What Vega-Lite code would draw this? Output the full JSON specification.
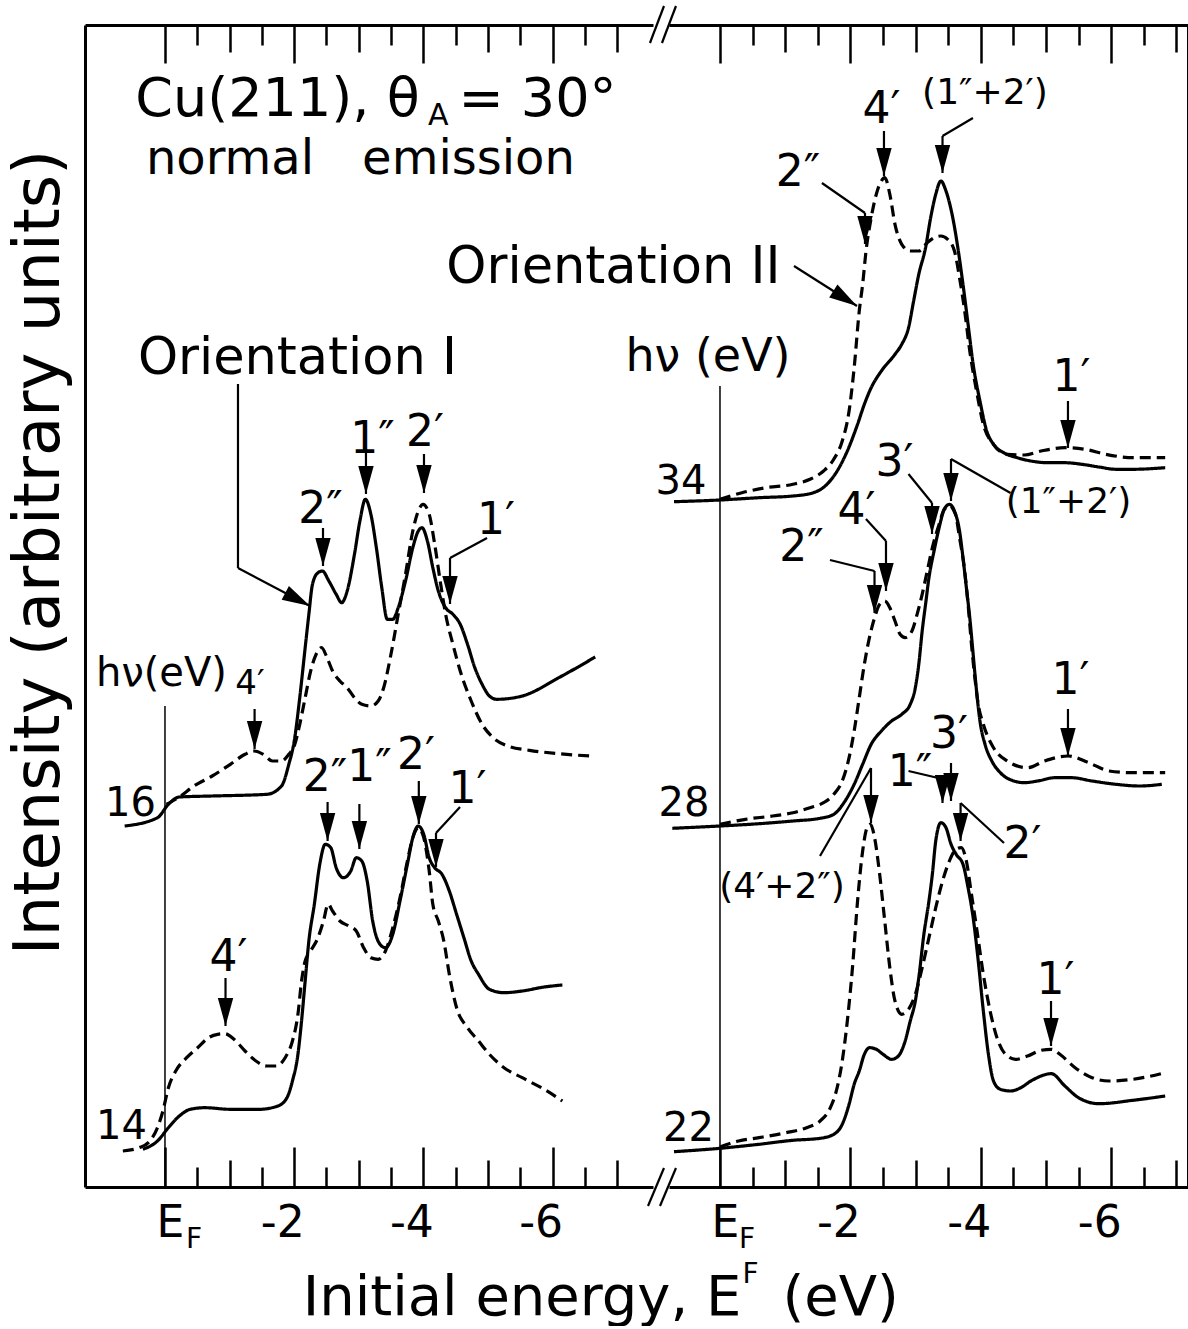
{
  "$schema": "https://vega.github.io/schema/vega-lite/v6.json",
  "background": "white",
  "padding": {"left": 6, "top": 4, "right": 1, "bottom": 1},
  "bounds": "flush",
  "spacing": 16,
  "config": {
    "view": {"stroke": null},
    "font": "DejaVu Sans",
    "axis": {"grid": false, "labelFont": "DejaVu Sans", "titleFont": "DejaVu Sans", "titleFontWeight": "normal", "labelColor": "black", "titleColor": "black", "domainColor": "black", "tickColor": "black"}
  },
  "datasets": {
    "curves": [
      {"p":"L","h":16,"s":"solid","E":0.624,"I":361},{"p":"L","h":16,"s":"solid","E":0.116,"I":369.3},{"p":"L","h":16,"s":"solid","E":-0.053,"I":382.7},{"p":"L","h":16,"s":"solid","E":-0.222,"I":390},{"p":"L","h":16,"s":"solid","E":-0.731,"I":391},{"p":"L","h":16,"s":"solid","E":-1.578,"I":392.7},{"p":"L","h":16,"s":"solid","E":-1.804,"I":401},{"p":"L","h":16,"s":"solid","E":-1.917,"I":422.7},{"p":"L","h":16,"s":"solid","E":-2.001,"I":446},{"p":"L","h":16,"s":"solid","E":-2.086,"I":489.3},{"p":"L","h":16,"s":"solid","E":-2.17,"I":539.3},{"p":"L","h":16,"s":"solid","E":-2.227,"I":572.7},{"p":"L","h":16,"s":"solid","E":-2.283,"I":602.7},{"p":"L","h":16,"s":"solid","E":-2.368,"I":614.3},{"p":"L","h":16,"s":"solid","E":-2.436,"I":616},{"p":"L","h":16,"s":"solid","E":-2.537,"I":606},{"p":"L","h":16,"s":"solid","E":-2.65,"I":592.7},{"p":"L","h":16,"s":"solid","E":-2.735,"I":584.3},{"p":"L","h":16,"s":"solid","E":-2.82,"I":596},{"p":"L","h":16,"s":"solid","E":-2.933,"I":632.7},{"p":"L","h":16,"s":"solid","E":-3.017,"I":666},{"p":"L","h":16,"s":"solid","E":-3.102,"I":687.7},{"p":"L","h":16,"s":"solid","E":-3.187,"I":672.7},{"p":"L","h":16,"s":"solid","E":-3.272,"I":639.3},{"p":"L","h":16,"s":"solid","E":-3.356,"I":599.3},{"p":"L","h":16,"s":"solid","E":-3.441,"I":567.7},{"p":"L","h":16,"s":"solid","E":-3.526,"I":567.7},{"p":"L","h":16,"s":"solid","E":-3.61,"I":579.3},{"p":"L","h":16,"s":"solid","E":-3.723,"I":606},{"p":"L","h":16,"s":"solid","E":-3.836,"I":639.3},{"p":"L","h":16,"s":"solid","E":-3.921,"I":656},{"p":"L","h":16,"s":"solid","E":-3.977,"I":659.3},{"p":"L","h":16,"s":"solid","E":-4.062,"I":646},{"p":"L","h":16,"s":"solid","E":-4.146,"I":619.3},{"p":"L","h":16,"s":"solid","E":-4.231,"I":596},{"p":"L","h":16,"s":"solid","E":-4.344,"I":579.3},{"p":"L","h":16,"s":"solid","E":-4.457,"I":572.7},{"p":"L","h":16,"s":"solid","E":-4.57,"I":562.7},{"p":"L","h":16,"s":"solid","E":-4.683,"I":542.7},{"p":"L","h":16,"s":"solid","E":-4.796,"I":519.3},{"p":"L","h":16,"s":"solid","E":-4.909,"I":502.7},{"p":"L","h":16,"s":"solid","E":-5.022,"I":491},{"p":"L","h":16,"s":"solid","E":-5.135,"I":487.7},{"p":"L","h":16,"s":"solid","E":-5.53,"I":491},{"p":"L","h":16,"s":"solid","E":-6.095,"I":509.3},{"p":"L","h":16,"s":"solid","E":-6.66,"I":530},
      {"p":"L","h":16,"s":"dashed","E":-0.025,"I":382.7},{"p":"L","h":16,"s":"dashed","E":-0.222,"I":390},{"p":"L","h":16,"s":"dashed","E":-0.448,"I":401},{"p":"L","h":16,"s":"dashed","E":-0.731,"I":411},{"p":"L","h":16,"s":"dashed","E":-1.013,"I":422.7},{"p":"L","h":16,"s":"dashed","E":-1.239,"I":432.7},{"p":"L","h":16,"s":"dashed","E":-1.38,"I":436},{"p":"L","h":16,"s":"dashed","E":-1.521,"I":432.7},{"p":"L","h":16,"s":"dashed","E":-1.662,"I":426},{"p":"L","h":16,"s":"dashed","E":-1.804,"I":426},{"p":"L","h":16,"s":"dashed","E":-1.917,"I":432.7},{"p":"L","h":16,"s":"dashed","E":-2.001,"I":441},{"p":"L","h":16,"s":"dashed","E":-2.086,"I":462.7},{"p":"L","h":16,"s":"dashed","E":-2.17,"I":489.3},{"p":"L","h":16,"s":"dashed","E":-2.255,"I":516},{"p":"L","h":16,"s":"dashed","E":-2.34,"I":532.7},{"p":"L","h":16,"s":"dashed","E":-2.424,"I":539.3},{"p":"L","h":16,"s":"dashed","E":-2.509,"I":529.3},{"p":"L","h":16,"s":"dashed","E":-2.594,"I":516},{"p":"L","h":16,"s":"dashed","E":-2.707,"I":506},{"p":"L","h":16,"s":"dashed","E":-2.82,"I":499.3},{"p":"L","h":16,"s":"dashed","E":-2.933,"I":489.3},{"p":"L","h":16,"s":"dashed","E":-3.046,"I":482.7},{"p":"L","h":16,"s":"dashed","E":-3.187,"I":481},{"p":"L","h":16,"s":"dashed","E":-3.3,"I":486},{"p":"L","h":16,"s":"dashed","E":-3.385,"I":499.3},{"p":"L","h":16,"s":"dashed","E":-3.498,"I":532.7},{"p":"L","h":16,"s":"dashed","E":-3.61,"I":572.7},{"p":"L","h":16,"s":"dashed","E":-3.723,"I":612.7},{"p":"L","h":16,"s":"dashed","E":-3.836,"I":656},{"p":"L","h":16,"s":"dashed","E":-3.921,"I":676},{"p":"L","h":16,"s":"dashed","E":-3.994,"I":682.7},{"p":"L","h":16,"s":"dashed","E":-4.09,"I":672.7},{"p":"L","h":16,"s":"dashed","E":-4.175,"I":642.7},{"p":"L","h":16,"s":"dashed","E":-4.26,"I":606},{"p":"L","h":16,"s":"dashed","E":-4.344,"I":572.7},{"p":"L","h":16,"s":"dashed","E":-4.457,"I":542.7},{"p":"L","h":16,"s":"dashed","E":-4.57,"I":516},{"p":"L","h":16,"s":"dashed","E":-4.74,"I":486},{"p":"L","h":16,"s":"dashed","E":-4.909,"I":462.7},{"p":"L","h":16,"s":"dashed","E":-5.079,"I":449.3},{"p":"L","h":16,"s":"dashed","E":-5.304,"I":441},{"p":"L","h":16,"s":"dashed","E":-5.643,"I":436.7},{"p":"L","h":16,"s":"dashed","E":-6.095,"I":433.3},{"p":"L","h":16,"s":"dashed","E":-6.575,"I":431},
      {"p":"L","h":14,"s":"solid","E":0.342,"I":37.7},{"p":"L","h":14,"s":"solid","E":0.116,"I":46},{"p":"L","h":14,"s":"solid","E":-0.053,"I":59.3},{"p":"L","h":14,"s":"solid","E":-0.222,"I":71},{"p":"L","h":14,"s":"solid","E":-0.392,"I":77.7},{"p":"L","h":14,"s":"solid","E":-0.618,"I":79.3},{"p":"L","h":14,"s":"solid","E":-1.013,"I":77.7},{"p":"L","h":14,"s":"solid","E":-1.465,"I":77.7},{"p":"L","h":14,"s":"solid","E":-1.747,"I":81},{"p":"L","h":14,"s":"solid","E":-1.888,"I":89.3},{"p":"L","h":14,"s":"solid","E":-1.973,"I":106},{"p":"L","h":14,"s":"solid","E":-2.058,"I":132.7},{"p":"L","h":14,"s":"solid","E":-2.114,"I":166},{"p":"L","h":14,"s":"solid","E":-2.17,"I":206},{"p":"L","h":14,"s":"solid","E":-2.227,"I":246},{"p":"L","h":14,"s":"solid","E":-2.312,"I":282.7},{"p":"L","h":14,"s":"solid","E":-2.396,"I":322.7},{"p":"L","h":14,"s":"solid","E":-2.481,"I":342.7},{"p":"L","h":14,"s":"solid","E":-2.566,"I":339.3},{"p":"L","h":14,"s":"solid","E":-2.65,"I":319.3},{"p":"L","h":14,"s":"solid","E":-2.763,"I":309.3},{"p":"L","h":14,"s":"solid","E":-2.876,"I":316},{"p":"L","h":14,"s":"solid","E":-2.961,"I":329.3},{"p":"L","h":14,"s":"solid","E":-3.046,"I":326},{"p":"L","h":14,"s":"solid","E":-3.13,"I":306},{"p":"L","h":14,"s":"solid","E":-3.215,"I":266},{"p":"L","h":14,"s":"solid","E":-3.328,"I":242.7},{"p":"L","h":14,"s":"solid","E":-3.413,"I":239.3},{"p":"L","h":14,"s":"solid","E":-3.526,"I":252.7},{"p":"L","h":14,"s":"solid","E":-3.638,"I":286},{"p":"L","h":14,"s":"solid","E":-3.752,"I":322.7},{"p":"L","h":14,"s":"solid","E":-3.836,"I":349.3},{"p":"L","h":14,"s":"solid","E":-3.921,"I":361},{"p":"L","h":14,"s":"solid","E":-4.005,"I":352.7},{"p":"L","h":14,"s":"solid","E":-4.09,"I":329.3},{"p":"L","h":14,"s":"solid","E":-4.175,"I":319.3},{"p":"L","h":14,"s":"solid","E":-4.288,"I":312.7},{"p":"L","h":14,"s":"solid","E":-4.401,"I":296},{"p":"L","h":14,"s":"solid","E":-4.514,"I":272.7},{"p":"L","h":14,"s":"solid","E":-4.627,"I":249.3},{"p":"L","h":14,"s":"solid","E":-4.74,"I":226},{"p":"L","h":14,"s":"solid","E":-4.853,"I":212.7},{"p":"L","h":14,"s":"solid","E":-5.022,"I":197.7},{"p":"L","h":14,"s":"solid","E":-5.248,"I":194.3},{"p":"L","h":14,"s":"solid","E":-5.53,"I":196},{"p":"L","h":14,"s":"solid","E":-5.869,"I":200},{"p":"L","h":14,"s":"solid","E":-6.151,"I":202},
      {"p":"L","h":14,"s":"dashed","E":0.652,"I":36},{"p":"L","h":14,"s":"dashed","E":0.399,"I":39.3},{"p":"L","h":14,"s":"dashed","E":0.258,"I":44.3},{"p":"L","h":14,"s":"dashed","E":0.116,"I":59.3},{"p":"L","h":14,"s":"dashed","E":0.032,"I":76},{"p":"L","h":14,"s":"dashed","E":-0.053,"I":99.3},{"p":"L","h":14,"s":"dashed","E":-0.166,"I":116},{"p":"L","h":14,"s":"dashed","E":-0.335,"I":129.3},{"p":"L","h":14,"s":"dashed","E":-0.505,"I":139.3},{"p":"L","h":14,"s":"dashed","E":-0.674,"I":149.3},{"p":"L","h":14,"s":"dashed","E":-0.815,"I":152.7},{"p":"L","h":14,"s":"dashed","E":-0.928,"I":153.3},{"p":"L","h":14,"s":"dashed","E":-1.069,"I":147.7},{"p":"L","h":14,"s":"dashed","E":-1.239,"I":136},{"p":"L","h":14,"s":"dashed","E":-1.408,"I":126},{"p":"L","h":14,"s":"dashed","E":-1.578,"I":121},{"p":"L","h":14,"s":"dashed","E":-1.719,"I":121},{"p":"L","h":14,"s":"dashed","E":-1.86,"I":129.3},{"p":"L","h":14,"s":"dashed","E":-1.973,"I":146},{"p":"L","h":14,"s":"dashed","E":-2.058,"I":172.7},{"p":"L","h":14,"s":"dashed","E":-2.114,"I":206},{"p":"L","h":14,"s":"dashed","E":-2.17,"I":226},{"p":"L","h":14,"s":"dashed","E":-2.255,"I":236},{"p":"L","h":14,"s":"dashed","E":-2.368,"I":249.3},{"p":"L","h":14,"s":"dashed","E":-2.453,"I":266},{"p":"L","h":14,"s":"dashed","E":-2.526,"I":282.7},{"p":"L","h":14,"s":"dashed","E":-2.594,"I":276},{"p":"L","h":14,"s":"dashed","E":-2.707,"I":266},{"p":"L","h":14,"s":"dashed","E":-2.848,"I":261},{"p":"L","h":14,"s":"dashed","E":-2.961,"I":256},{"p":"L","h":14,"s":"dashed","E":-3.074,"I":239.3},{"p":"L","h":14,"s":"dashed","E":-3.187,"I":229.3},{"p":"L","h":14,"s":"dashed","E":-3.3,"I":227.7},{"p":"L","h":14,"s":"dashed","E":-3.413,"I":236},{"p":"L","h":14,"s":"dashed","E":-3.526,"I":259.3},{"p":"L","h":14,"s":"dashed","E":-3.638,"I":289.3},{"p":"L","h":14,"s":"dashed","E":-3.752,"I":326},{"p":"L","h":14,"s":"dashed","E":-3.836,"I":349.3},{"p":"L","h":14,"s":"dashed","E":-3.921,"I":359.3},{"p":"L","h":14,"s":"dashed","E":-4.005,"I":349.3},{"p":"L","h":14,"s":"dashed","E":-4.09,"I":316},{"p":"L","h":14,"s":"dashed","E":-4.146,"I":282.7},{"p":"L","h":14,"s":"dashed","E":-4.231,"I":266},{"p":"L","h":14,"s":"dashed","E":-4.316,"I":246},{"p":"L","h":14,"s":"dashed","E":-4.401,"I":212.7},{"p":"L","h":14,"s":"dashed","E":-4.514,"I":179.3},{"p":"L","h":14,"s":"dashed","E":-4.683,"I":159.3},{"p":"L","h":14,"s":"dashed","E":-4.853,"I":146},{"p":"L","h":14,"s":"dashed","E":-5.022,"I":132.7},{"p":"L","h":14,"s":"dashed","E":-5.248,"I":119.3},{"p":"L","h":14,"s":"dashed","E":-5.53,"I":109.3},{"p":"L","h":14,"s":"dashed","E":-5.869,"I":97.7},{"p":"L","h":14,"s":"dashed","E":-6.151,"I":86},
      {"p":"R","h":34,"s":"solid","E":0.705,"I":685.3},{"p":"R","h":34,"s":"solid","E":0.002,"I":687},{"p":"R","h":34,"s":"solid","E":-0.598,"I":689.3},{"p":"R","h":34,"s":"solid","E":-1.119,"I":691},{"p":"R","h":34,"s":"solid","E":-1.432,"I":694.3},{"p":"R","h":34,"s":"solid","E":-1.641,"I":702.7},{"p":"R","h":34,"s":"solid","E":-1.797,"I":716},{"p":"R","h":34,"s":"solid","E":-1.953,"I":736},{"p":"R","h":34,"s":"solid","E":-2.11,"I":762.7},{"p":"R","h":34,"s":"solid","E":-2.214,"I":782.7},{"p":"R","h":34,"s":"solid","E":-2.319,"I":799.3},{"p":"R","h":34,"s":"solid","E":-2.475,"I":816},{"p":"R","h":34,"s":"solid","E":-2.684,"I":832.7},{"p":"R","h":34,"s":"solid","E":-2.788,"I":842.7},{"p":"R","h":34,"s":"solid","E":-2.892,"I":859.3},{"p":"R","h":34,"s":"solid","E":-2.97,"I":886},{"p":"R","h":34,"s":"solid","E":-3.049,"I":912.7},{"p":"R","h":34,"s":"solid","E":-3.153,"I":939.3},{"p":"R","h":34,"s":"solid","E":-3.231,"I":969.3},{"p":"R","h":34,"s":"solid","E":-3.309,"I":992.7},{"p":"R","h":34,"s":"solid","E":-3.388,"I":1006},{"p":"R","h":34,"s":"solid","E":-3.466,"I":996},{"p":"R","h":34,"s":"solid","E":-3.57,"I":969.3},{"p":"R","h":34,"s":"solid","E":-3.648,"I":939.3},{"p":"R","h":34,"s":"solid","E":-3.727,"I":902.7},{"p":"R","h":34,"s":"solid","E":-3.805,"I":862.7},{"p":"R","h":34,"s":"solid","E":-3.883,"I":822.7},{"p":"R","h":34,"s":"solid","E":-3.987,"I":786},{"p":"R","h":34,"s":"solid","E":-4.091,"I":756},{"p":"R","h":34,"s":"solid","E":-4.195,"I":742.7},{"p":"R","h":34,"s":"solid","E":-4.352,"I":734.3},{"p":"R","h":34,"s":"solid","E":-4.56,"I":729.3},{"p":"R","h":34,"s":"solid","E":-4.769,"I":726},{"p":"R","h":34,"s":"solid","E":-5.029,"I":724.3},{"p":"R","h":34,"s":"solid","E":-5.29,"I":724.3},{"p":"R","h":34,"s":"solid","E":-5.551,"I":722.7},{"p":"R","h":34,"s":"solid","E":-5.812,"I":720},{"p":"R","h":34,"s":"solid","E":-6.073,"I":717.7},{"p":"R","h":34,"s":"solid","E":-6.333,"I":717.7},{"p":"R","h":34,"s":"solid","E":-6.828,"I":719.3},
      {"p":"R","h":34,"s":"dashed","E":0.002,"I":687.7},{"p":"R","h":34,"s":"dashed","E":-0.337,"I":694.3},{"p":"R","h":34,"s":"dashed","E":-0.702,"I":699.3},{"p":"R","h":34,"s":"dashed","E":-1.119,"I":702.7},{"p":"R","h":34,"s":"dashed","E":-1.38,"I":707.7},{"p":"R","h":34,"s":"dashed","E":-1.588,"I":716},{"p":"R","h":34,"s":"dashed","E":-1.745,"I":727.7},{"p":"R","h":34,"s":"dashed","E":-1.875,"I":746},{"p":"R","h":34,"s":"dashed","E":-1.98,"I":776},{"p":"R","h":34,"s":"dashed","E":-2.058,"I":819.3},{"p":"R","h":34,"s":"dashed","E":-2.136,"I":876},{"p":"R","h":34,"s":"dashed","E":-2.188,"I":902.7},{"p":"R","h":34,"s":"dashed","E":-2.24,"I":936},{"p":"R","h":34,"s":"dashed","E":-2.319,"I":969.3},{"p":"R","h":34,"s":"dashed","E":-2.397,"I":992.7},{"p":"R","h":34,"s":"dashed","E":-2.475,"I":1006},{"p":"R","h":34,"s":"dashed","E":-2.527,"I":1009.3},{"p":"R","h":34,"s":"dashed","E":-2.605,"I":992.7},{"p":"R","h":34,"s":"dashed","E":-2.684,"I":962.7},{"p":"R","h":34,"s":"dashed","E":-2.788,"I":942.7},{"p":"R","h":34,"s":"dashed","E":-2.918,"I":936},{"p":"R","h":34,"s":"dashed","E":-3.049,"I":936},{"p":"R","h":34,"s":"dashed","E":-3.179,"I":944.3},{"p":"R","h":34,"s":"dashed","E":-3.283,"I":949.3},{"p":"R","h":34,"s":"dashed","E":-3.388,"I":951},{"p":"R","h":34,"s":"dashed","E":-3.492,"I":947.7},{"p":"R","h":34,"s":"dashed","E":-3.596,"I":936},{"p":"R","h":34,"s":"dashed","E":-3.674,"I":909.3},{"p":"R","h":34,"s":"dashed","E":-3.753,"I":876},{"p":"R","h":34,"s":"dashed","E":-3.831,"I":836},{"p":"R","h":34,"s":"dashed","E":-3.935,"I":796},{"p":"R","h":34,"s":"dashed","E":-4.039,"I":762.7},{"p":"R","h":34,"s":"dashed","E":-4.195,"I":742.7},{"p":"R","h":34,"s":"dashed","E":-4.404,"I":732.7},{"p":"R","h":34,"s":"dashed","E":-4.665,"I":732},{"p":"R","h":34,"s":"dashed","E":-4.925,"I":736},{"p":"R","h":34,"s":"dashed","E":-5.29,"I":739.3},{"p":"R","h":34,"s":"dashed","E":-5.603,"I":737.7},{"p":"R","h":34,"s":"dashed","E":-5.916,"I":732.7},{"p":"R","h":34,"s":"dashed","E":-6.333,"I":729.3},{"p":"R","h":34,"s":"dashed","E":-6.828,"I":729.3},
      {"p":"R","h":28,"s":"solid","E":0.731,"I":358.7},{"p":"R","h":28,"s":"solid","E":0,"I":361},{"p":"R","h":28,"s":"solid","E":-0.598,"I":363.3},{"p":"R","h":28,"s":"solid","E":-1.119,"I":366},{"p":"R","h":28,"s":"solid","E":-1.536,"I":368.7},{"p":"R","h":28,"s":"solid","E":-1.745,"I":372.7},{"p":"R","h":28,"s":"solid","E":-1.901,"I":384.3},{"p":"R","h":28,"s":"solid","E":-2.058,"I":402.7},{"p":"R","h":28,"s":"solid","E":-2.188,"I":422.7},{"p":"R","h":28,"s":"solid","E":-2.319,"I":442.7},{"p":"R","h":28,"s":"solid","E":-2.475,"I":456},{"p":"R","h":28,"s":"solid","E":-2.631,"I":466},{"p":"R","h":28,"s":"solid","E":-2.788,"I":472.7},{"p":"R","h":28,"s":"solid","E":-2.918,"I":482.7},{"p":"R","h":28,"s":"solid","E":-2.996,"I":499.3},{"p":"R","h":28,"s":"solid","E":-3.049,"I":522.7},{"p":"R","h":28,"s":"solid","E":-3.101,"I":556},{"p":"R","h":28,"s":"solid","E":-3.153,"I":582.7},{"p":"R","h":28,"s":"solid","E":-3.205,"I":609.3},{"p":"R","h":28,"s":"solid","E":-3.283,"I":636},{"p":"R","h":28,"s":"solid","E":-3.361,"I":659.3},{"p":"R","h":28,"s":"solid","E":-3.44,"I":677.7},{"p":"R","h":28,"s":"solid","E":-3.518,"I":682.7},{"p":"R","h":28,"s":"solid","E":-3.596,"I":676},{"p":"R","h":28,"s":"solid","E":-3.674,"I":656},{"p":"R","h":28,"s":"solid","E":-3.727,"I":629.3},{"p":"R","h":28,"s":"solid","E":-3.779,"I":599.3},{"p":"R","h":28,"s":"solid","E":-3.831,"I":569.3},{"p":"R","h":28,"s":"solid","E":-3.883,"I":532.7},{"p":"R","h":28,"s":"solid","E":-3.935,"I":496},{"p":"R","h":28,"s":"solid","E":-3.987,"I":466},{"p":"R","h":28,"s":"solid","E":-4.065,"I":442.7},{"p":"R","h":28,"s":"solid","E":-4.169,"I":426},{"p":"R","h":28,"s":"solid","E":-4.3,"I":414.3},{"p":"R","h":28,"s":"solid","E":-4.508,"I":406},{"p":"R","h":28,"s":"solid","E":-4.665,"I":404.3},{"p":"R","h":28,"s":"solid","E":-4.873,"I":406},{"p":"R","h":28,"s":"solid","E":-5.134,"I":409.3},{"p":"R","h":28,"s":"solid","E":-5.394,"I":409.3},{"p":"R","h":28,"s":"solid","E":-5.707,"I":406},{"p":"R","h":28,"s":"solid","E":-6.073,"I":402.7},{"p":"R","h":28,"s":"solid","E":-6.437,"I":401},{"p":"R","h":28,"s":"solid","E":-6.776,"I":402.7},
      {"p":"R","h":28,"s":"dashed","E":0,"I":362.7},{"p":"R","h":28,"s":"dashed","E":-0.39,"I":367.7},{"p":"R","h":28,"s":"dashed","E":-0.807,"I":371},{"p":"R","h":28,"s":"dashed","E":-1.119,"I":374.3},{"p":"R","h":28,"s":"dashed","E":-1.38,"I":379.3},{"p":"R","h":28,"s":"dashed","E":-1.588,"I":384.3},{"p":"R","h":28,"s":"dashed","E":-1.745,"I":392.7},{"p":"R","h":28,"s":"dashed","E":-1.875,"I":406},{"p":"R","h":28,"s":"dashed","E":-1.98,"I":429.3},{"p":"R","h":28,"s":"dashed","E":-2.058,"I":456},{"p":"R","h":28,"s":"dashed","E":-2.136,"I":489.3},{"p":"R","h":28,"s":"dashed","E":-2.214,"I":522.7},{"p":"R","h":28,"s":"dashed","E":-2.292,"I":549.3},{"p":"R","h":28,"s":"dashed","E":-2.371,"I":569.3},{"p":"R","h":28,"s":"dashed","E":-2.449,"I":582.7},{"p":"R","h":28,"s":"dashed","E":-2.527,"I":586},{"p":"R","h":28,"s":"dashed","E":-2.605,"I":579.3},{"p":"R","h":28,"s":"dashed","E":-2.684,"I":566},{"p":"R","h":28,"s":"dashed","E":-2.762,"I":552.7},{"p":"R","h":28,"s":"dashed","E":-2.84,"I":549.3},{"p":"R","h":28,"s":"dashed","E":-2.944,"I":556},{"p":"R","h":28,"s":"dashed","E":-3.023,"I":572.7},{"p":"R","h":28,"s":"dashed","E":-3.101,"I":592.7},{"p":"R","h":28,"s":"dashed","E":-3.179,"I":616},{"p":"R","h":28,"s":"dashed","E":-3.257,"I":639.3},{"p":"R","h":28,"s":"dashed","E":-3.361,"I":662.7},{"p":"R","h":28,"s":"dashed","E":-3.44,"I":677.7},{"p":"R","h":28,"s":"dashed","E":-3.518,"I":681},{"p":"R","h":28,"s":"dashed","E":-3.611,"I":672.7},{"p":"R","h":28,"s":"dashed","E":-3.674,"I":649.3},{"p":"R","h":28,"s":"dashed","E":-3.753,"I":616},{"p":"R","h":28,"s":"dashed","E":-3.805,"I":582.7},{"p":"R","h":28,"s":"dashed","E":-3.857,"I":542.7},{"p":"R","h":28,"s":"dashed","E":-3.909,"I":509.3},{"p":"R","h":28,"s":"dashed","E":-3.961,"I":482.7},{"p":"R","h":28,"s":"dashed","E":-4.039,"I":462.7},{"p":"R","h":28,"s":"dashed","E":-4.195,"I":439.3},{"p":"R","h":28,"s":"dashed","E":-4.404,"I":426},{"p":"R","h":28,"s":"dashed","E":-4.717,"I":419.3},{"p":"R","h":28,"s":"dashed","E":-4.978,"I":426},{"p":"R","h":28,"s":"dashed","E":-5.343,"I":431},{"p":"R","h":28,"s":"dashed","E":-5.656,"I":424.3},{"p":"R","h":28,"s":"dashed","E":-5.968,"I":416},{"p":"R","h":28,"s":"dashed","E":-6.333,"I":414.3},{"p":"R","h":28,"s":"dashed","E":-6.828,"I":414.3},
      {"p":"R","h":22,"s":"solid","E":0.705,"I":35.3},{"p":"R","h":22,"s":"solid","E":0,"I":38.7},{"p":"R","h":22,"s":"solid","E":-0.598,"I":42.7},{"p":"R","h":22,"s":"solid","E":-1.119,"I":46.7},{"p":"R","h":22,"s":"solid","E":-1.536,"I":48.7},{"p":"R","h":22,"s":"solid","E":-1.745,"I":52.7},{"p":"R","h":22,"s":"solid","E":-1.875,"I":62.7},{"p":"R","h":22,"s":"solid","E":-1.98,"I":82.7},{"p":"R","h":22,"s":"solid","E":-2.058,"I":102.7},{"p":"R","h":22,"s":"solid","E":-2.136,"I":116},{"p":"R","h":22,"s":"solid","E":-2.214,"I":132.7},{"p":"R","h":22,"s":"solid","E":-2.293,"I":139.3},{"p":"R","h":22,"s":"solid","E":-2.397,"I":137.7},{"p":"R","h":22,"s":"solid","E":-2.501,"I":132.7},{"p":"R","h":22,"s":"solid","E":-2.631,"I":127.7},{"p":"R","h":22,"s":"solid","E":-2.736,"I":131},{"p":"R","h":22,"s":"solid","E":-2.84,"I":146},{"p":"R","h":22,"s":"solid","E":-2.918,"I":166},{"p":"R","h":22,"s":"solid","E":-2.996,"I":186},{"p":"R","h":22,"s":"solid","E":-3.049,"I":209.3},{"p":"R","h":22,"s":"solid","E":-3.127,"I":252.7},{"p":"R","h":22,"s":"solid","E":-3.205,"I":286},{"p":"R","h":22,"s":"solid","E":-3.257,"I":312.7},{"p":"R","h":22,"s":"solid","E":-3.309,"I":346},{"p":"R","h":22,"s":"solid","E":-3.388,"I":364.3},{"p":"R","h":22,"s":"solid","E":-3.466,"I":359.3},{"p":"R","h":22,"s":"solid","E":-3.544,"I":342.7},{"p":"R","h":22,"s":"solid","E":-3.622,"I":332.7},{"p":"R","h":22,"s":"solid","E":-3.727,"I":322.7},{"p":"R","h":22,"s":"solid","E":-3.805,"I":299.3},{"p":"R","h":22,"s":"solid","E":-3.883,"I":269.3},{"p":"R","h":22,"s":"solid","E":-3.961,"I":226},{"p":"R","h":22,"s":"solid","E":-4.039,"I":176},{"p":"R","h":22,"s":"solid","E":-4.117,"I":132.7},{"p":"R","h":22,"s":"solid","E":-4.195,"I":106},{"p":"R","h":22,"s":"solid","E":-4.3,"I":97.7},{"p":"R","h":22,"s":"solid","E":-4.456,"I":96},{"p":"R","h":22,"s":"solid","E":-4.613,"I":99.3},{"p":"R","h":22,"s":"solid","E":-4.769,"I":106},{"p":"R","h":22,"s":"solid","E":-5.082,"I":113.3},{"p":"R","h":22,"s":"solid","E":-5.29,"I":101},{"p":"R","h":22,"s":"solid","E":-5.499,"I":89.3},{"p":"R","h":22,"s":"solid","E":-5.812,"I":83.3},{"p":"R","h":22,"s":"solid","E":-6.333,"I":86.7},{"p":"R","h":22,"s":"solid","E":-6.828,"I":91},
      {"p":"R","h":22,"s":"dashed","E":0,"I":40},{"p":"R","h":22,"s":"dashed","E":-0.285,"I":46},{"p":"R","h":22,"s":"dashed","E":-0.598,"I":49.3},{"p":"R","h":22,"s":"dashed","E":-1.015,"I":54.3},{"p":"R","h":22,"s":"dashed","E":-1.328,"I":59.3},{"p":"R","h":22,"s":"dashed","E":-1.536,"I":66},{"p":"R","h":22,"s":"dashed","E":-1.693,"I":79.3},{"p":"R","h":22,"s":"dashed","E":-1.797,"I":99.3},{"p":"R","h":22,"s":"dashed","E":-1.875,"I":126},{"p":"R","h":22,"s":"dashed","E":-1.953,"I":166},{"p":"R","h":22,"s":"dashed","E":-2.032,"I":219.3},{"p":"R","h":22,"s":"dashed","E":-2.11,"I":286},{"p":"R","h":22,"s":"dashed","E":-2.188,"I":336},{"p":"R","h":22,"s":"dashed","E":-2.256,"I":359.3},{"p":"R","h":22,"s":"dashed","E":-2.308,"I":362.7},{"p":"R","h":22,"s":"dashed","E":-2.371,"I":349.3},{"p":"R","h":22,"s":"dashed","E":-2.449,"I":312.7},{"p":"R","h":22,"s":"dashed","E":-2.527,"I":266},{"p":"R","h":22,"s":"dashed","E":-2.605,"I":219.3},{"p":"R","h":22,"s":"dashed","E":-2.684,"I":186},{"p":"R","h":22,"s":"dashed","E":-2.788,"I":172.7},{"p":"R","h":22,"s":"dashed","E":-2.892,"I":177.7},{"p":"R","h":22,"s":"dashed","E":-2.996,"I":192.7},{"p":"R","h":22,"s":"dashed","E":-3.101,"I":219.3},{"p":"R","h":22,"s":"dashed","E":-3.205,"I":249.3},{"p":"R","h":22,"s":"dashed","E":-3.309,"I":279.3},{"p":"R","h":22,"s":"dashed","E":-3.414,"I":306},{"p":"R","h":22,"s":"dashed","E":-3.518,"I":326},{"p":"R","h":22,"s":"dashed","E":-3.622,"I":337.7},{"p":"R","h":22,"s":"dashed","E":-3.7,"I":339.3},{"p":"R","h":22,"s":"dashed","E":-3.779,"I":326},{"p":"R","h":22,"s":"dashed","E":-3.857,"I":292.7},{"p":"R","h":22,"s":"dashed","E":-3.935,"I":259.3},{"p":"R","h":22,"s":"dashed","E":-4.039,"I":212.7},{"p":"R","h":22,"s":"dashed","E":-4.143,"I":176},{"p":"R","h":22,"s":"dashed","E":-4.248,"I":149.3},{"p":"R","h":22,"s":"dashed","E":-4.378,"I":132.7},{"p":"R","h":22,"s":"dashed","E":-4.534,"I":127.7},{"p":"R","h":22,"s":"dashed","E":-4.717,"I":131},{"p":"R","h":22,"s":"dashed","E":-4.925,"I":136.7},{"p":"R","h":22,"s":"dashed","E":-5.082,"I":137.7},{"p":"R","h":22,"s":"dashed","E":-5.212,"I":132.7},{"p":"R","h":22,"s":"dashed","E":-5.447,"I":119.3},{"p":"R","h":22,"s":"dashed","E":-5.707,"I":109.3},{"p":"R","h":22,"s":"dashed","E":-5.968,"I":106},{"p":"R","h":22,"s":"dashed","E":-6.333,"I":107.7},{"p":"R","h":22,"s":"dashed","E":-6.828,"I":114.3}
    ],
    "segs": [
      {"p":"L","E1":-2.446,"I1":659,"E2":-2.446,"I2":621},
      {"p":"L","E1":-3.111,"I1":736,"E2":-3.111,"I2":693},
      {"p":"L","E1":-4.009,"I1":733,"E2":-4.009,"I2":694},
      {"p":"L","E1":-4.985,"I1":649,"E2":-4.412,"I2":629},
      {"p":"L","E1":-4.412,"I1":629,"E2":-4.412,"I2":583},
      {"p":"L","E1":-1.387,"I1":478,"E2":-1.387,"I2":438},
      {"p":"L","E1":-1.13,"I1":803,"E2":-1.13,"I2":619},
      {"p":"L","E1":-1.13,"I1":619,"E2":-2.245,"I2":581},
      {"p":"L","E1":-2.517,"I1":385,"E2":-2.517,"I2":346},
      {"p":"L","E1":-3.009,"I1":383,"E2":-3.009,"I2":338},
      {"p":"L","E1":-3.929,"I1":406,"E2":-3.929,"I2":363},
      {"p":"L","E1":-4.567,"I1":380,"E2":-4.195,"I2":354},
      {"p":"L","E1":-4.195,"I1":354,"E2":-4.195,"I2":320},
      {"p":"L","E1":-0.937,"I1":209,"E2":-0.937,"I2":161},
      {"p":"R","E1":-2.515,"I1":1056,"E2":-2.515,"I2":1011},
      {"p":"R","E1":-3.88,"I1":1069,"E2":-3.413,"I2":1051},
      {"p":"R","E1":-3.413,"I1":1051,"E2":-3.413,"I2":1014},
      {"p":"R","E1":-1.564,"I1":1004,"E2":-2.224,"I2":974},
      {"p":"R","E1":-2.224,"I1":974,"E2":-2.224,"I2":943},
      {"p":"R","E1":-1.135,"I1":921,"E2":-2.101,"I2":881},
      {"p":"R","E1":-5.337,"I1":786,"E2":-5.337,"I2":739},
      {"p":"R","E1":-2.891,"I1":713,"E2":-3.252,"I2":684},
      {"p":"R","E1":-3.252,"I1":684,"E2":-3.252,"I2":653},
      {"p":"R","E1":-4.456,"I1":694,"E2":-3.543,"I2":728},
      {"p":"R","E1":-3.543,"I1":728,"E2":-3.543,"I2":686},
      {"p":"R","E1":-2.239,"I1":668,"E2":-2.546,"I2":646},
      {"p":"R","E1":-2.546,"I1":646,"E2":-2.546,"I2":596},
      {"p":"R","E1":-1.687,"I1":627,"E2":-2.37,"I2":616},
      {"p":"R","E1":-2.37,"I1":616,"E2":-2.37,"I2":574},
      {"p":"R","E1":-5.337,"I1":478,"E2":-5.337,"I2":431},
      {"p":"R","E1":-2.891,"I1":416,"E2":-3.413,"I2":408},
      {"p":"R","E1":-3.413,"I1":408,"E2":-3.413,"I2":384},
      {"p":"R","E1":-3.543,"I1":424,"E2":-3.543,"I2":386},
      {"p":"R","E1":-4.356,"I1":344,"E2":-3.69,"I2":384},
      {"p":"R","E1":-3.69,"I1":384,"E2":-3.69,"I2":346},
      {"p":"R","E1":-1.534,"I1":331,"E2":-2.316,"I2":419},
      {"p":"R","E1":-2.316,"I1":419,"E2":-2.316,"I2":364},
      {"p":"R","E1":-5.077,"I1":186,"E2":-5.077,"I2":141},
      {"p":"R","E1":1.074,"I1":1144,"E2":0.859,"I2":1181},
      {"p":"R","E1":0.89,"I1":1144,"E2":0.675,"I2":1181},
      {"p":"R","E1":1.104,"I1":-19,"E2":0.859,"I2":19},
      {"p":"R","E1":0.92,"I1":-19,"E2":0.675,"I2":19}
    ],
    "heads": [
      {"p":"L","a":"v","E":-2.446,"I":621},{"p":"L","a":"v","E":-3.111,"I":693},{"p":"L","a":"v","E":-4.009,"I":694},{"p":"L","a":"v","E":-4.412,"I":583},{"p":"L","a":"v","E":-1.387,"I":438},{"p":"L","a":"v","E":-2.517,"I":346},{"p":"L","a":"v","E":-3.009,"I":338},{"p":"L","a":"v","E":-3.929,"I":363},{"p":"L","a":"v","E":-4.195,"I":320},{"p":"L","a":"v","E":-0.937,"I":161},
      {"p":"L","a":"d","E":-2.245,"I":581},
      {"p":"R","a":"v","E":-2.515,"I":1011},{"p":"R","a":"v","E":-3.413,"I":1014},{"p":"R","a":"v","E":-2.224,"I":943},{"p":"R","a":"v","E":-5.337,"I":739},{"p":"R","a":"v","E":-3.252,"I":653},{"p":"R","a":"v","E":-3.543,"I":686},{"p":"R","a":"v","E":-2.546,"I":596},{"p":"R","a":"v","E":-2.37,"I":574},{"p":"R","a":"v","E":-5.337,"I":431},{"p":"R","a":"v","E":-3.413,"I":384},{"p":"R","a":"v","E":-3.543,"I":386},{"p":"R","a":"v","E":-3.69,"I":346},{"p":"R","a":"v","E":-2.316,"I":364},{"p":"R","a":"v","E":-5.077,"I":141},
      {"p":"R","a":"d","E":-2.101,"I":881}
    ],
    "texts": [
      {"p":"L","k":"big","t":"Cu(211), θ","E":-1.741,"I":1071},
      {"p":"L","k":"sub","t":"A","E":-4.23,"I":1062},
      {"p":"L","k":"big","t":"= 30°","E":-5.766,"I":1071},
      {"p":"L","k":"norm","t":"normal","E":-1.006,"I":1013},
      {"p":"L","k":"norm","t":"emission","E":-4.698,"I":1013},
      {"p":"L","k":"orient","t":"Orientation  I","E":-2.051,"I":813},
      {"p":"L","k":"orient","t":"Orientation  II","E":-6.942,"I":904},
      {"p":"L","k":"hvL","t":"hν(eV)","E":0.054,"I":501},
      {"p":"L","k":"num","t":"16","E":0.534,"I":371},
      {"p":"L","k":"num","t":"14","E":0.673,"I":48},
      {"p":"L","k":"peak","t":"2″","E":-2.407,"I":664},
      {"p":"L","k":"peak","t":"1″","E":-3.212,"I":734},
      {"p":"L","k":"peak","t":"2′","E":-4.025,"I":741},
      {"p":"L","k":"peak","t":"1′","E":-5.124,"I":653},
      {"p":"L","k":"peaksm","t":"4′","E":-1.316,"I":493},
      {"p":"L","k":"peak","t":"2″","E":-2.477,"I":396},
      {"p":"L","k":"peak","t":"1″","E":-3.166,"I":406},
      {"p":"L","k":"peak","t":"2′","E":-3.885,"I":418},
      {"p":"L","k":"peak","t":"1′","E":-4.683,"I":384},
      {"p":"L","k":"peak","t":"4′","E":-0.983,"I":216},
      {"p":"L","k":"tsub","t":"F","E":-0.449,"I":-61},
      {"p":"R","k":"hvR","t":"hν (eV)","E":0.184,"I":816},
      {"p":"R","k":"num","t":"34","E":0.598,"I":693},
      {"p":"R","k":"num","t":"28","E":0.552,"I":371},
      {"p":"R","k":"num","t":"22","E":0.483,"I":46},
      {"p":"R","k":"peak","t":"4′","E":-2.477,"I":1064},
      {"p":"R","k":"combo","t":"(1″+2′)","E":-4.064,"I":1083},
      {"p":"R","k":"peak","t":"2″","E":-1.196,"I":1001},
      {"p":"R","k":"peak","t":"1′","E":-5.391,"I":796},
      {"p":"R","k":"peak","t":"3′","E":-2.676,"I":711},
      {"p":"R","k":"combo","t":"(1″+2′)","E":-5.345,"I":674},
      {"p":"R","k":"peak","t":"4′","E":-2.094,"I":663},
      {"p":"R","k":"peak","t":"2″","E":-1.25,"I":626},
      {"p":"R","k":"peak","t":"1′","E":-5.376,"I":493},
      {"p":"R","k":"peak","t":"1″","E":-2.914,"I":401},
      {"p":"R","k":"peak","t":"3′","E":-3.512,"I":439},
      {"p":"R","k":"peak","t":"2′","E":-4.64,"I":329},
      {"p":"R","k":"combo","t":"(4′+2″)","E":-0.951,"I":289},
      {"p":"R","k":"peak","t":"1′","E":-5.146,"I":193},
      {"p":"R","k":"tsub","t":"F","E":-0.414,"I":-61},
      {"p":"R","k":"tsup","t":"F","E":-0.468,"I":-96}
    ]
  },
  "hconcat": [
    {
      "width": 568,
      "height": 1162,
      "resolve": {"axis": {"x": "independent", "y": "independent"}},
      "layer": [
        {
          "data": {"name": "curves"},
          "transform": [{"filter": "datum.p == 'L'"}],
          "mark": {"type": "line", "strokeWidth": 3.2, "color": "black", "interpolate": "monotone"},
          "encoding": {
            "x": {"field": "E", "type": "quantitative", "scale": {"domain": [1.238, -7.554], "nice": false, "zero": false},
              "axis": {"orient": "bottom", "values": [0,-0.5,-1,-1.5,-2,-2.5,-3,-3.5,-4,-4.5,-5,-5.5,-6,-6.5,-7],
                "labelExpr": "datum.value == 0 ? 'E' : (abs(datum.value) % 2 == 0 ? '-' + abs(datum.value) : '')",
                "labelFontSize": 44, "labelPadding": 54, "labelFlush": false, "labelOverlap": false, "labelBound": false,
                "labelOffset": {"condition": {"test": "datum.value == 0", "value": 5}, "value": -12},
                "tickSize": {"condition": [{"test": "abs(datum.value) % 2 == 0", "value": -40}, {"test": "abs(datum.value) % 1 == 0", "value": -27}], "value": -20},
                "tickWidth": 2.5, "domainWidth": 3,
                "title": "Initial energy, E", "titleFontSize": 56, "titleAlign": "right", "titleX": 656, "titleY": 127, "titleBaseline": "alphabetic"}},
            "y": {"field": "I", "type": "quantitative", "scale": {"domain": [0, 1162], "nice": false, "zero": false},
              "axis": {"orient": "left", "ticks": false, "labels": false, "domainWidth": 3,
                "title": "Intensity (arbitrary units)", "titleFontSize": 64, "titleAngle": 270, "titleX": -46, "titleY": 527, "titleAlign": "center", "titleBaseline": "middle"}},
            "detail": {"field": "h", "type": "nominal"},
            "order": {"field": "E", "sort": "descending"},
            "strokeDash": {"field": "s", "type": "nominal", "scale": {"domain": ["solid", "dashed"], "range": [[1, 0], [11, 6]]}, "legend": null}
          }
        },
        {
          "data": {"values": [{"E": 0, "I0": 0, "I1": 481}]},
          "mark": {"type": "rule", "strokeWidth": 1.5, "color": "black"},
          "encoding": {
            "x": {"field": "E", "type": "quantitative", "scale": {"domain": [1.238, -7.554], "nice": false, "zero": false},
              "axis": {"orient": "top", "values": [0,-0.5,-1,-1.5,-2,-2.5,-3,-3.5,-4,-4.5,-5,-5.5,-6,-6.5,-7], "labels": false,
                "tickSize": {"condition": [{"test": "abs(datum.value) % 2 == 0", "value": -38}, {"test": "abs(datum.value) % 1 == 0", "value": -27}], "value": -20},
                "tickWidth": 2.5, "domainWidth": 3, "title": null}},
            "y": {"field": "I0", "type": "quantitative", "scale": {"domain": [0, 1162], "nice": false, "zero": false}, "axis": null},
            "y2": {"field": "I1"}
          }
        },
        {
          "data": {"name": "segs"},
          "transform": [{"filter": "datum.p == 'L'"}],
          "mark": {"type": "rule", "strokeWidth": 2.2, "color": "black"},
          "encoding": {
            "x": {"field": "E1", "type": "quantitative", "scale": {"domain": [1.238, -7.554], "nice": false, "zero": false}, "axis": null},
            "x2": {"field": "E2"},
            "y": {"field": "I1", "type": "quantitative", "scale": {"domain": [0, 1162], "nice": false, "zero": false}, "axis": null},
            "y2": {"field": "I2"}
          }
        },
        {
          "data": {"name": "heads"},
          "transform": [{"filter": "datum.p == 'L' && datum.a == 'v'"}],
          "mark": {"type": "point", "shape": "M0,0L-0.55,-2L0.55,-2Z", "size": 784, "filled": true, "color": "black", "opacity": 1, "strokeWidth": 0},
          "encoding": {
            "x": {"field": "E", "type": "quantitative", "scale": {"domain": [1.238, -7.554], "nice": false, "zero": false}, "axis": null},
            "y": {"field": "I", "type": "quantitative", "scale": {"domain": [0, 1162], "nice": false, "zero": false}, "axis": null}
          }
        },
        {
          "data": {"name": "heads"},
          "transform": [{"filter": "datum.p == 'L' && datum.a == 'd'"}],
          "mark": {"type": "point", "shape": "M0,0L-0.55,-2L0.55,-2Z", "size": 784, "filled": true, "color": "black", "opacity": 1, "strokeWidth": 0, "angle": -62},
          "encoding": {
            "x": {"field": "E", "type": "quantitative", "scale": {"domain": [1.238, -7.554], "nice": false, "zero": false}, "axis": null},
            "y": {"field": "I", "type": "quantitative", "scale": {"domain": [0, 1162], "nice": false, "zero": false}, "axis": null}
          }
        },
        {
          "data": {"name": "texts"},
          "transform": [{"filter": "datum.p == 'L'"}],
          "mark": {"type": "text", "align": "center", "baseline": "alphabetic", "font": "DejaVu Sans", "color": "black",
            "fontSize": {"expr": "datum.k=='big'?54:datum.k=='sub'?30:datum.k=='norm'?48:datum.k=='orient'?51:datum.k=='hvL'?40:datum.k=='hvR'?46:datum.k=='num'?40:datum.k=='peak'?44:datum.k=='peaksm'?34:datum.k=='combo'?36:28"}},
          "encoding": {
            "x": {"field": "E", "type": "quantitative", "scale": {"domain": [1.238, -7.554], "nice": false, "zero": false}, "axis": null},
            "y": {"field": "I", "type": "quantitative", "scale": {"domain": [0, 1162], "nice": false, "zero": false}, "axis": null},
            "text": {"field": "t"}
          }
        }
      ]
    },
    {
      "width": 519,
      "height": 1162,
      "resolve": {"axis": {"x": "independent", "y": "independent"}},
      "layer": [
        {
          "data": {"name": "curves"},
          "transform": [{"filter": "datum.p == 'R'"}],
          "mark": {"type": "line", "strokeWidth": 3.2, "color": "black", "interpolate": "monotone"},
          "encoding": {
            "x": {"field": "E", "type": "quantitative", "scale": {"domain": [0.782, -7.178], "nice": false, "zero": false},
              "axis": {"orient": "bottom", "values": [0,-0.5,-1,-1.5,-2,-2.5,-3,-3.5,-4,-4.5,-5,-5.5,-6,-6.5,-7],
                "labelExpr": "datum.value == 0 ? 'E' : (abs(datum.value) % 2 == 0 ? '-' + abs(datum.value) : '')",
                "labelFontSize": 44, "labelPadding": 54, "labelFlush": false, "labelOverlap": false, "labelBound": false,
                "labelOffset": {"condition": {"test": "datum.value == 0", "value": 5}, "value": -12},
                "tickSize": {"condition": [{"test": "abs(datum.value) % 2 == 0", "value": -40}, {"test": "abs(datum.value) % 1 == 0", "value": -27}], "value": -20},
                "tickWidth": 2.5, "domainWidth": 3,
                "title": "(eV)", "titleFontSize": 56, "titleAlign": "left", "titleX": 113, "titleY": 127, "titleBaseline": "alphabetic"}},
            "y": {"field": "I", "type": "quantitative", "scale": {"domain": [0, 1162], "nice": false, "zero": false},
              "axis": {"orient": "right", "ticks": false, "labels": false, "domainWidth": 3, "title": null}},
            "detail": {"field": "h", "type": "nominal"},
            "order": {"field": "E", "sort": "descending"},
            "strokeDash": {"field": "s", "type": "nominal", "scale": {"domain": ["solid", "dashed"], "range": [[1, 0], [11, 6]]}, "legend": null}
          }
        },
        {
          "data": {"values": [{"E": 0, "I0": 0, "I1": 801}]},
          "mark": {"type": "rule", "strokeWidth": 1.5, "color": "black"},
          "encoding": {
            "x": {"field": "E", "type": "quantitative", "scale": {"domain": [0.782, -7.178], "nice": false, "zero": false},
              "axis": {"orient": "top", "values": [0,-0.5,-1,-1.5,-2,-2.5,-3,-3.5,-4,-4.5,-5,-5.5,-6,-6.5,-7], "labels": false,
                "tickSize": {"condition": [{"test": "abs(datum.value) % 2 == 0", "value": -38}, {"test": "abs(datum.value) % 1 == 0", "value": -27}], "value": -20},
                "tickWidth": 2.5, "domainWidth": 3, "title": null}},
            "y": {"field": "I0", "type": "quantitative", "scale": {"domain": [0, 1162], "nice": false, "zero": false}, "axis": null},
            "y2": {"field": "I1"}
          }
        },
        {
          "data": {"name": "segs"},
          "transform": [{"filter": "datum.p == 'R'"}],
          "mark": {"type": "rule", "strokeWidth": 2.2, "color": "black"},
          "encoding": {
            "x": {"field": "E1", "type": "quantitative", "scale": {"domain": [0.782, -7.178], "nice": false, "zero": false}, "axis": null},
            "x2": {"field": "E2"},
            "y": {"field": "I1", "type": "quantitative", "scale": {"domain": [0, 1162], "nice": false, "zero": false}, "axis": null},
            "y2": {"field": "I2"}
          }
        },
        {
          "data": {"name": "heads"},
          "transform": [{"filter": "datum.p == 'R' && datum.a == 'v'"}],
          "mark": {"type": "point", "shape": "M0,0L-0.55,-2L0.55,-2Z", "size": 784, "filled": true, "color": "black", "opacity": 1, "strokeWidth": 0},
          "encoding": {
            "x": {"field": "E", "type": "quantitative", "scale": {"domain": [0.782, -7.178], "nice": false, "zero": false}, "axis": null},
            "y": {"field": "I", "type": "quantitative", "scale": {"domain": [0, 1162], "nice": false, "zero": false}, "axis": null}
          }
        },
        {
          "data": {"name": "heads"},
          "transform": [{"filter": "datum.p == 'R' && datum.a == 'd'"}],
          "mark": {"type": "point", "shape": "M0,0L-0.55,-2L0.55,-2Z", "size": 784, "filled": true, "color": "black", "opacity": 1, "strokeWidth": 0, "angle": -57.6},
          "encoding": {
            "x": {"field": "E", "type": "quantitative", "scale": {"domain": [0.782, -7.178], "nice": false, "zero": false}, "axis": null},
            "y": {"field": "I", "type": "quantitative", "scale": {"domain": [0, 1162], "nice": false, "zero": false}, "axis": null}
          }
        },
        {
          "data": {"name": "texts"},
          "transform": [{"filter": "datum.p == 'R'"}],
          "mark": {"type": "text", "align": "center", "baseline": "alphabetic", "font": "DejaVu Sans", "color": "black",
            "fontSize": {"expr": "datum.k=='big'?54:datum.k=='sub'?30:datum.k=='norm'?48:datum.k=='orient'?51:datum.k=='hvL'?40:datum.k=='hvR'?46:datum.k=='num'?40:datum.k=='peak'?44:datum.k=='peaksm'?34:datum.k=='combo'?36:28"}},
          "encoding": {
            "x": {"field": "E", "type": "quantitative", "scale": {"domain": [0.782, -7.178], "nice": false, "zero": false}, "axis": null},
            "y": {"field": "I", "type": "quantitative", "scale": {"domain": [0, 1162], "nice": false, "zero": false}, "axis": null},
            "text": {"field": "t"}
          }
        }
      ]
    }
  ]
}
